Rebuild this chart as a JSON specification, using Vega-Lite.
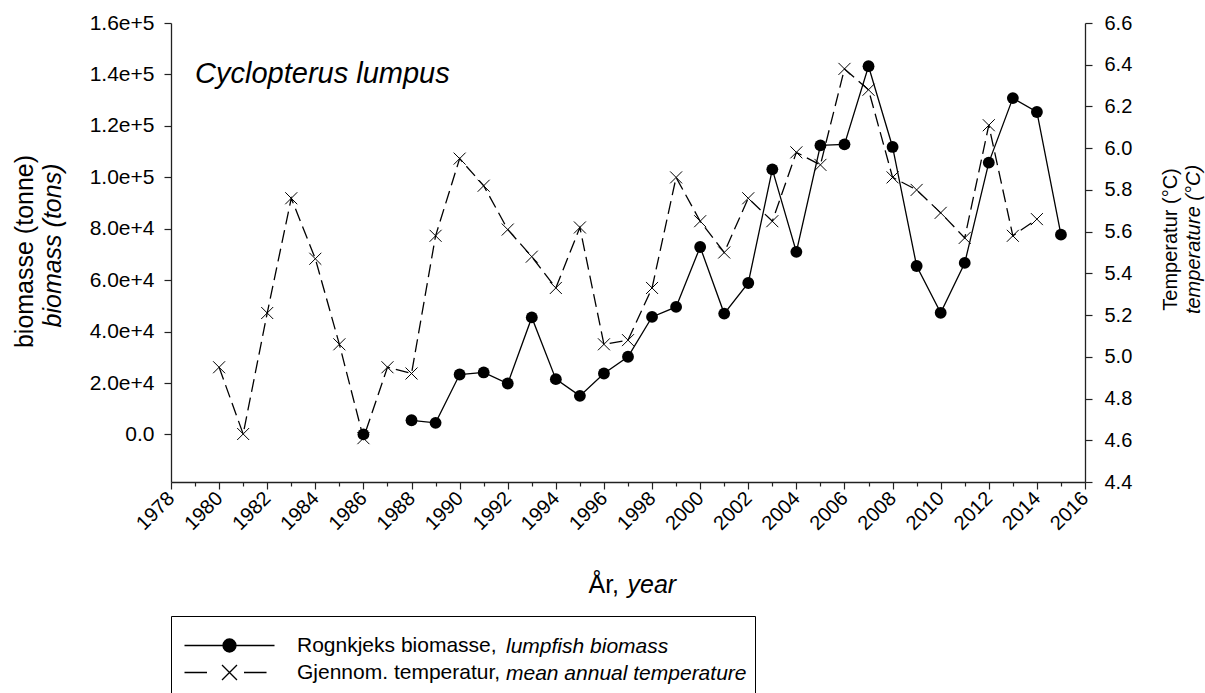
{
  "$schema": "https://vega.github.io/schema/vega-lite/v6.json",
  "width": 914,
  "height": 459,
  "autosize": {"type": "none"},
  "padding": {"left": 171, "top": 23, "right": 120, "bottom": 211},
  "background": "white",
  "config": {
    "view": {"stroke": null},
    "font": "Liberation Sans",
    "axis": {
      "grid": false,
      "domainColor": "#222222",
      "domainWidth": 1.3,
      "tickColor": "#222222",
      "tickWidth": 1.2,
      "labelColor": "black",
      "titleColor": "black",
      "labelFont": "Liberation Sans",
      "titleFont": "Liberation Sans",
      "titleFontWeight": "normal",
      "labelOverlap": false,
      "labelFlush": false
    },
    "legend": {
      "labelFont": "Liberation Sans",
      "labelColor": "black",
      "labelLimit": 3000,
      "titleLimit": 3000
    }
  },
  "datasets": {
    "main": [
      {"year": 1980, "temp": 4.95, "biomass": null},
      {"year": 1981, "temp": 4.63, "biomass": null},
      {"year": 1982, "temp": 5.21, "biomass": null},
      {"year": 1983, "temp": 5.76, "biomass": null},
      {"year": 1984, "temp": 5.47, "biomass": null},
      {"year": 1985, "temp": 5.06, "biomass": null},
      {"year": 1986, "temp": 4.61, "biomass": 0},
      {"year": 1987, "temp": 4.95, "biomass": null},
      {"year": 1988, "temp": 4.92, "biomass": 5500},
      {"year": 1989, "temp": 5.58, "biomass": 4500},
      {"year": 1990, "temp": 5.95, "biomass": 23300},
      {"year": 1991, "temp": 5.82, "biomass": 24100},
      {"year": 1992, "temp": 5.61, "biomass": 19800},
      {"year": 1993, "temp": 5.48, "biomass": 45500},
      {"year": 1994, "temp": 5.33, "biomass": 21500},
      {"year": 1995, "temp": 5.62, "biomass": 15000},
      {"year": 1996, "temp": 5.06, "biomass": 23700},
      {"year": 1997, "temp": 5.08, "biomass": 30200},
      {"year": 1998, "temp": 5.33, "biomass": 45700},
      {"year": 1999, "temp": 5.86, "biomass": 49600},
      {"year": 2000, "temp": 5.65, "biomass": 72900},
      {"year": 2001, "temp": 5.50, "biomass": 47000},
      {"year": 2002, "temp": 5.76, "biomass": 58900},
      {"year": 2003, "temp": 5.65, "biomass": 103100},
      {"year": 2004, "temp": 5.98, "biomass": 71000},
      {"year": 2005, "temp": 5.92, "biomass": 112400},
      {"year": 2006, "temp": 6.38, "biomass": 112800},
      {"year": 2007, "temp": 6.28, "biomass": 143200},
      {"year": 2008, "temp": 5.86, "biomass": 111800},
      {"year": 2009, "temp": 5.80, "biomass": 65500},
      {"year": 2010, "temp": 5.69, "biomass": 47300},
      {"year": 2011, "temp": 5.57, "biomass": 66700},
      {"year": 2012, "temp": 6.11, "biomass": 105700},
      {"year": 2013, "temp": 5.58, "biomass": 130800},
      {"year": 2014, "temp": 5.66, "biomass": 125400},
      {"year": 2015, "temp": null, "biomass": 77700}
    ],
    "series": [
      {"name": "Rognkjeks biomasse,", "ital": "lumpfish biomass"},
      {"name": "Gjennom. temperatur,", "ital": "mean annual temperature"}
    ]
  },
  "data": {"name": "main"},
  "layer": [
    {
      "mark": {"type": "line", "stroke": "black", "strokeWidth": 1.3, "strokeDash": [13, 6], "invalid": "break-paths-filter-domains"},
      "encoding": {
        "x": {
          "field": "year", "type": "quantitative",
          "scale": {"domain": [1978, 2016], "nice": false, "zero": false},
          "axis": {
            "orient": "bottom",
            "values": [1978,1979,1980,1981,1982,1983,1984,1985,1986,1987,1988,1989,1990,1991,1992,1993,1994,1995,1996,1997,1998,1999,2000,2001,2002,2003,2004,2005,2006,2007,2008,2009,2010,2011,2012,2013,2014,2015,2016],
            "format": "d",
            "labelExpr": "datum.value % 2 == 0 ? datum.label : ''",
            "labelAngle": -45,
            "labelAlign": "right",
            "labelBaseline": "middle",
            "labelFontSize": 20,
            "labelPadding": 6,
            "tickSize": {"condition": {"test": "datum.value % 2 == 0", "value": 7}, "value": 4},
            "title": "År,",
            "titleFontSize": 25,
            "titleAlign": "left",
            "titleBaseline": "alphabetic",
            "titleX": 417,
            "titleY": 110
          }
        },
        "y": {
          "field": "temp", "type": "quantitative",
          "scale": {"domain": [4.4, 6.6], "nice": false, "zero": false},
          "axis": {
            "orient": "right",
            "values": [4.4, 4.6, 4.8, 5.0, 5.2, 5.4, 5.6, 5.8, 6.0, 6.2, 6.4, 6.6],
            "format": ".1f",
            "labelFontSize": 20,
            "tickSize": 7,
            "labelPadding": 12,
            "title": "Temperatur (°C)",
            "titleFontSize": 20,
            "titleAngle": -90,
            "titleAlign": "center",
            "titleBaseline": "middle",
            "titleX": 85,
            "titleY": 216
          }
        }
      }
    },
    {
      "mark": {"type": "point", "shape": "M-1,-1L1,1M-1,1L1,-1", "stroke": "black", "strokeWidth": 1, "filled": false, "size": 144, "opacity": 1},
      "encoding": {
        "x": {"field": "year", "type": "quantitative", "scale": {"domain": [1978, 2016], "nice": false, "zero": false}, "axis": null},
        "y": {"field": "temp", "type": "quantitative", "scale": {"domain": [4.4, 6.6], "nice": false, "zero": false}, "axis": null}
      }
    },
    {
      "mark": {"type": "line", "stroke": "black", "strokeWidth": 1.3, "invalid": "break-paths-filter-domains"},
      "encoding": {
        "x": {"field": "year", "type": "quantitative", "scale": {"domain": [1978, 2016], "nice": false, "zero": false}, "axis": null},
        "y": {
          "field": "biomass", "type": "quantitative",
          "scale": {"domain": [-18500, 160000], "nice": false, "zero": false},
          "axis": {
            "orient": "left",
            "values": [0, 20000, 40000, 60000, 80000, 100000, 120000, 140000, 160000],
            "labelExpr": "datum.value == 0 ? '0.0' : format(datum.value, '.1e')",
            "labelFontSize": 21,
            "tickSize": 7,
            "labelPadding": 10,
            "title": "biomasse (tonne)",
            "titleFontSize": 25,
            "titleAngle": -90,
            "titleAlign": "center",
            "titleBaseline": "middle",
            "titleX": -147,
            "titleY": 228
          }
        }
      }
    },
    {
      "mark": {"type": "circle", "color": "black", "size": 140, "opacity": 1},
      "encoding": {
        "x": {"field": "year", "type": "quantitative", "scale": {"domain": [1978, 2016], "nice": false, "zero": false}, "axis": null},
        "y": {"field": "biomass", "type": "quantitative", "scale": {"domain": [-18500, 160000], "nice": false, "zero": false}, "axis": null}
      }
    },
    {
      "mark": {"type": "point", "opacity": 0},
      "encoding": {
        "x": {
          "field": "year", "type": "quantitative",
          "scale": {"domain": [1978, 2016], "nice": false, "zero": false},
          "axis": {"orient": "bottom", "domain": false, "ticks": false, "labels": false, "title": "year", "titleFontSize": 25, "titleFontStyle": "italic", "titleAlign": "left", "titleBaseline": "alphabetic", "titleX": 456, "titleY": 110}
        },
        "y": {
          "field": "biomass", "type": "quantitative",
          "scale": {"domain": [-18500, 160000], "nice": false, "zero": false},
          "axis": {"orient": "left", "domain": false, "ticks": false, "labels": false, "title": "biomass (tons)", "titleFontSize": 25, "titleFontStyle": "italic", "titleAngle": -90, "titleAlign": "center", "titleBaseline": "middle", "titleX": -119, "titleY": 222}
        }
      }
    },
    {
      "mark": {"type": "point", "opacity": 0},
      "encoding": {
        "x": {"field": "year", "type": "quantitative", "scale": {"domain": [1978, 2016], "nice": false, "zero": false}, "axis": null},
        "y": {
          "field": "temp", "type": "quantitative",
          "scale": {"domain": [4.4, 6.6], "nice": false, "zero": false},
          "axis": {"orient": "right", "domain": false, "ticks": false, "labels": false, "title": "temperature (°C)", "titleFontSize": 20, "titleFontStyle": "italic", "titleAngle": -90, "titleAlign": "center", "titleBaseline": "middle", "titleX": 108, "titleY": 216}
        }
      }
    },
    {
      "data": {"values": [{"label": "Cyclopterus lumpus"}]},
      "mark": {"type": "text", "font": "Liberation Sans", "fontStyle": "italic", "fontSize": 29, "align": "left", "baseline": "alphabetic", "color": "black"},
      "encoding": {
        "x": {"datum": 1979, "type": "quantitative", "scale": {"domain": [1978, 2016], "nice": false, "zero": false}, "axis": null},
        "y": {"datum": 136500, "type": "quantitative", "scale": {"domain": [-18500, 160000], "nice": false, "zero": false}, "axis": null},
        "text": {"field": "label", "type": "nominal"}
      }
    },
    {
      "data": {"name": "series"},
      "mark": {"type": "point", "opacity": 0, "filled": true},
      "encoding": {
        "shape": {
          "field": "name", "type": "nominal",
          "scale": {
            "domain": ["Rognkjeks biomasse,", "Gjennom. temperatur,"],
            "range": [
              "M-6.43,0H6.43M0.93,0A0.93,0.93,0,1,1,-0.93,0A0.93,0.93,0,1,1,0.93,0Z",
              "M-6.43,0H-3.21M2.07,0H5.29M-1.07,-1.07L1.07,1.07M-1.07,1.07L1.07,-1.07"
            ]
          },
          "legend": {
            "orient": "none",
            "legendX": 0,
            "legendY": 593,
            "title": "\u200b\u3000\u3000\u3000\u3000\u3000\u3000\u3000\u3000\u3000\u3000\u3000\u3000\u3000\u3000\u3000\u3000\u3000\u3000\u3000\u3000\u3000\u3000\u3000\u3000\u3000\u3000\u3000\u3000\u3000\u3000\u3000\u3000\u3000\u3000\u3000\u3000\u3000\u3000\u3000\u3000\u3000\u3000\u3000\u3000\u3000\u3000\u3000\u3000\u3000\u3000\u3000\u3000\u3000\u3000\u3000\u3000\u3000\u3000\u3000\u3000\u3000\u3000\u3000\u3000\u3000\u3000\u3000\u3000\u3000\u3000\u3000\u3000\u3000\u3000\u3000\u3000\u3000\u3000\u3000\u3000\u3000\u3000\u3000\u3000\u3000\u3000\u3000\u3000\u3000\u3000\u3000\u3000\u3000\u3000\u200b",
            "titleFontSize": 6,
            "titlePadding": 3,
            "titleOpacity": 0,
            "padding": 10,
            "strokeColor": "black",
            "symbolSize": 196,
            "symbolFillColor": "black",
            "symbolStrokeColor": "black",
            "symbolStrokeWidth": 1.3,
            "symbolOpacity": 1,
            "symbolOffset": 38,
            "labelFontSize": 21,
            "labelOffset": 57,
            "rowPadding": 5
          }
        },
        "color": {
          "field": "ital", "type": "nominal",
          "scale": {"domain": ["lumpfish biomass", "mean annual temperature"], "range": ["black", "black"]},
          "legend": {
            "orient": "none",
            "legendX": 314,
            "legendY": 613,
            "title": null,
            "padding": 0,
            "symbolSize": 0,
            "symbolOpacity": 0,
            "symbolStrokeWidth": 0,
            "labelFontSize": 21,
            "labelFontStyle": "italic",
            "labelOffset": 0,
            "rowPadding": 5
          }
        }
      }
    }
  ],
  "resolve": {
    "scale": {"y": "independent"},
    "axis": {"x": "independent", "y": "independent"}
  }
}
